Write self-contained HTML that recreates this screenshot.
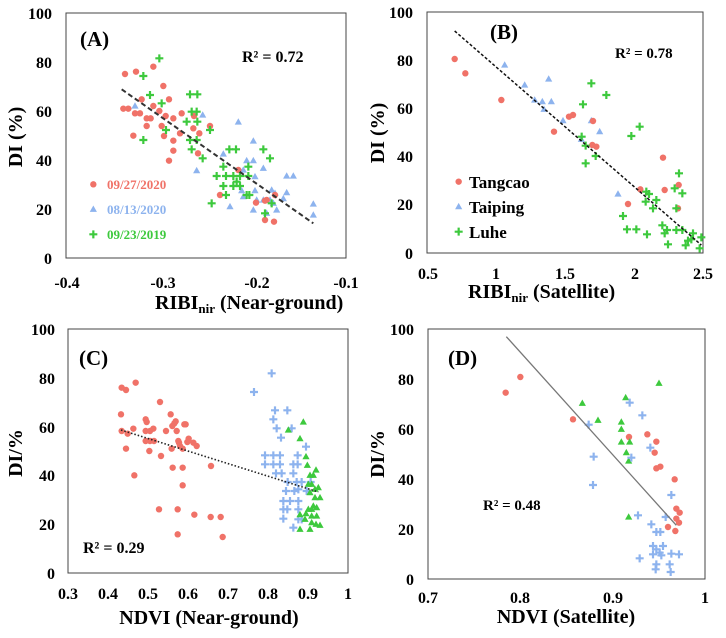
<!DOCTYPE html>
<html><head><meta charset="utf-8"><style>
html,body{margin:0;padding:0;background:#fff;}
svg text{font-family:"Liberation Serif",serif;font-weight:bold;fill:#000;}
</style></head><body>
<svg id="s" width="726" height="633" xmlns="http://www.w3.org/2000/svg">
<!-- frames -->
<rect x="66" y="13" width="280" height="245" fill="none" stroke="#444" stroke-width="1"/>
<rect x="427" y="12" width="276" height="241" fill="none" stroke="#444" stroke-width="1"/>
<rect x="68" y="329" width="280" height="244" fill="none" stroke="#444" stroke-width="1"/>
<rect x="428" y="329" width="277" height="250" fill="none" stroke="#444" stroke-width="1"/>
<g id="g"></g>
<!-- Panel A text -->
<g font-size="16" text-anchor="end">
<text x="52" y="19">100</text><text x="52" y="68">80</text><text x="52" y="117">60</text><text x="52" y="166">40</text><text x="52" y="215">20</text><text x="52" y="264">0</text>
</g>
<g font-size="16" text-anchor="middle">
<text x="67" y="288">-0.4</text><text x="163" y="288">-0.3</text><text x="257" y="288">-0.2</text><text x="346" y="288">-0.1</text>
</g>
<text x="80" y="46" font-size="21">(A)</text>
<text x="242" y="62" font-size="16">R² = 0.72</text>
<text transform="translate(22,137) rotate(-90)" font-size="20" text-anchor="middle">DI (%)</text>
<text x="155" y="309" font-size="20">RIBI<tspan font-size="13" dy="4">nir</tspan><tspan dy="-4">  (Near-ground)</tspan></text>
<g font-size="13">
<text x="107" y="189" style="fill:#f07268">09/27/2020</text>
<text x="107" y="214" style="fill:#8db3ee">08/13/2020</text>
<text x="107" y="239" style="fill:#3dc93d">09/23/2019</text>
</g>
<!-- Panel B text -->
<g font-size="16" text-anchor="end">
<text x="413" y="18">100</text><text x="413" y="66">80</text><text x="413" y="114">60</text><text x="413" y="162">40</text><text x="413" y="210">20</text><text x="413" y="259">0</text>
</g>
<g font-size="16" text-anchor="middle">
<text x="428" y="279">0.5</text><text x="496" y="279">1</text><text x="565" y="279">1.5</text><text x="635" y="279">2</text><text x="703" y="279">2.5</text>
</g>
<text x="490" y="39" font-size="21">(B)</text>
<text x="615" y="58" font-size="15">R² = 0.78</text>
<text transform="translate(384,133) rotate(-90)" font-size="20" text-anchor="middle">DI (%)</text>
<text x="468" y="298" font-size="20">RIBI<tspan font-size="13" dy="4">nir</tspan><tspan dy="-4"> (Satellite)</tspan></text>
<g font-size="17">
<text x="469" y="188">Tangcao</text>
<text x="469" y="213">Taiping</text>
<text x="469" y="238">Luhe</text>
</g>
<!-- Panel C text -->
<g font-size="16" text-anchor="end">
<text x="55" y="335">100</text><text x="55" y="384">80</text><text x="55" y="433">60</text><text x="55" y="481">40</text><text x="55" y="530">20</text><text x="55" y="579">0</text>
</g>
<g font-size="16" text-anchor="middle">
<text x="68" y="599">0.3</text><text x="108" y="599">0.4</text><text x="148" y="599">0.5</text><text x="188" y="599">0.6</text><text x="228" y="599">0.7</text><text x="268" y="599">0.8</text><text x="308" y="599">0.9</text><text x="348" y="599">1</text>
</g>
<text x="79" y="365" font-size="21">(C)</text>
<text x="83" y="553" font-size="16">R² = 0.29</text>
<text transform="translate(22,453) rotate(-90)" font-size="20" text-anchor="middle">DI/%</text>
<text x="209" y="624" font-size="20" text-anchor="middle">NDVI (Near-ground)</text>
<!-- Panel D text -->
<g font-size="16" text-anchor="end">
<text x="414" y="335">100</text><text x="414" y="385">80</text><text x="414" y="435">60</text><text x="414" y="485">40</text><text x="414" y="535">20</text><text x="414" y="585">0</text>
</g>
<g font-size="16" text-anchor="middle">
<text x="428" y="603">0.7</text><text x="520" y="603">0.8</text><text x="613" y="603">0.9</text><text x="705" y="603">1</text>
</g>
<text x="448" y="365" font-size="21">(D)</text>
<text x="483" y="510" font-size="15">R² = 0.48</text>
<text transform="translate(384,454) rotate(-90)" font-size="20" text-anchor="middle">DI/%</text>
<text x="566" y="623" font-size="20" text-anchor="middle">NDVI (Satellite)</text>
</svg>
<script>
var R='#f07268',B='#8db3ee',G='#3dc93d';
var out='';
function P(ox,oy,z){return [ox+z[0]/3,oy+z[1]/3];}
function circ(p,c){out+='<circle cx="'+p[0]+'" cy="'+p[1]+'" r="3.2" fill="'+c+'"/>';}
function tri(p,c){var x=p[0],y=p[1];out+='<polygon points="'+x+','+(y-3.8)+' '+(x-3.6)+','+(y+2.6)+' '+(x+3.6)+','+(y+2.6)+'" fill="'+c+'"/>';}
function plus(p,c){var x=p[0],y=p[1];out+='<path d="M'+(x-4)+' '+y+'H'+(x+4)+'M'+x+' '+(y-4)+'V'+(y+4)+'" stroke="'+c+'" stroke-width="2.2"/>';}
function S(ox,oy,arr,f,c){arr.forEach(function(z){f(P(ox,oy,z),c);});}
function L(ox,oy,a,b,st){var p=P(ox,oy,a),q=P(ox,oy,b);out+='<line x1="'+p[0]+'" y1="'+p[1]+'" x2="'+q[0]+'" y2="'+q[1]+'" '+st+'/>';}
// A
S(0,0,[[405,318],[608,345],[590,512],[715,366],[670,462],[760,423],[740,482],[760,482],[730,510],[765,530],[790,505],[690,620],[725,572],[730,590],[765,572],[770,600],[760,630],[790,600],[815,570],[825,580],[820,610],[830,630],[860,528],[880,528],[860,578],[850,596],[940,612],[940,645],[800,640],[810,600],[280,628]],tri,B);
S(0,0,[[375,222],[408,215],[460,200],[370,326],[385,326],[425,298],[405,340],[420,340],[460,318],[440,355],[452,355],[440,378],[400,407],[490,258],[478,333],[497,348],[485,378],[492,408],[507,298],[520,355],[520,422],[520,452],[507,482],[545,340],[540,400],[582,348],[580,385],[598,400],[594,460],[630,378],[660,585],[715,510],[768,608],[795,602],[822,665],[795,660],[825,585],[800,600],[280,553]],circ,R);
S(0,0,[[478,175],[430,228],[450,285],[485,310],[430,420],[498,390],[570,283],[592,283],[575,335],[590,335],[560,365],[592,365],[570,420],[590,420],[575,448],[608,475],[630,390],[635,610],[650,528],[670,500],[678,528],[670,558],[678,585],[688,448],[708,448],[700,528],[710,545],[720,528],[700,558],[720,558],[745,500],[745,528],[740,585],[748,585],[790,448],[810,475],[795,640],[815,610],[280,703]],plus,G);
L(0,0,[365,268],[940,670],'stroke="#333" stroke-width="2" stroke-dasharray="5,3"');
// B
S(363,0,[[425,195],[485,255],[557,237],[515,300],[538,305],[565,305],[543,328],[600,362],[655,418],[685,362],[710,395],[765,582],[287,620]],tri,B);
S(363,0,[[275,177],[307,220],[415,300],[573,395],[618,350],[630,345],[690,363],[688,435],[700,440],[900,473],[832,568],[905,570],[947,555],[945,625],[795,612],[287,545]],circ,R);
S(363,0,[[685,250],[730,285],[660,313],[668,437],[656,410],[668,490],[698,468],[805,408],[830,380],[780,648],[792,688],[820,688],[852,703],[850,575],[858,582],[848,605],[870,625],[898,676],[905,700],[912,690],[915,733],[940,690],[958,690],[968,736],[975,722],[985,718],[990,700],[948,520],[935,565],[958,580],[940,625],[1015,712],[1010,745],[880,600],[287,695]],plus,G);
L(363,0,[275,93],[1015,735],'stroke="#111" stroke-width="1.5" stroke-dasharray="3,2"');
// C
S(0,316,[[365,215],[378,222],[407,200],[363,295],[365,345],[378,398],[383,353],[400,338],[403,478],[437,310],[440,318],[437,345],[450,345],[437,375],[450,375],[460,338],[462,375],[448,405],[480,258],[483,420],[498,345],[512,295],[517,330],[515,398],[523,322],[527,316],[530,345],[537,380],[548,398],[557,325],[535,375],[540,390],[562,378],[580,380],[566,368],[553,325],[590,390],[518,455],[548,455],[548,508],[477,580],[533,580],[583,596],[633,450],[533,655],[632,603],[662,603],[668,663]],circ,R);
S(0,316,[[815,172],[762,228],[825,283],[862,283],[820,310],[830,337],[875,337],[843,365],[795,418],[820,418],[840,418],[795,445],[820,445],[840,445],[880,445],[918,392],[893,418],[893,445],[828,472],[845,472],[880,472],[863,498],[890,498],[905,498],[932,498],[858,525],[883,525],[895,520],[870,555],[895,555],[850,555],[920,525],[862,580],[895,580],[850,580],[895,610],[850,608],[880,635],[905,610]],plus,B);
S(0,316,[[910,318],[865,342],[900,368],[918,422],[922,448],[930,478],[940,478],[948,462],[925,505],[935,505],[945,520],[955,515],[960,545],[930,530],[945,545],[940,570],[950,575],[935,580],[925,580],[918,593],[935,600],[900,596],[950,600],[935,620],[948,625],[960,628],[915,610],[930,640],[900,640]],tri,G);
L(0,316,[363,342],[955,528],'stroke="#222" stroke-width="1.6" stroke-dasharray="1.5,2"');
// D
S(363,316,[[428,230],[472,183],[630,310],[798,363],[853,355],[880,377],[875,410],[880,457],[892,452],[935,490],[940,578],[950,590],[940,608],[915,633],[937,645],[948,620]],circ,R);
S(363,316,[[658,262],[888,202],[788,245],[705,313],[775,318],[775,340],[775,378],[800,378],[790,410],[797,435],[797,603]],tri,G);
S(363,316,[[677,326],[800,260],[838,298],[862,395],[805,425],[692,422],[690,507],[825,598],[865,625],[880,648],[892,648],[925,537],[908,603],[870,690],[880,700],[890,710],[900,690],[870,715],[895,718],[925,713],[948,715],[880,745],[878,760],[920,745],[923,768],[830,727]],plus,B);
L(363,316,[430,62],[940,628],'stroke="#777" stroke-width="1.3"');
document.getElementById('g').innerHTML=out;
</script>
</body></html>
